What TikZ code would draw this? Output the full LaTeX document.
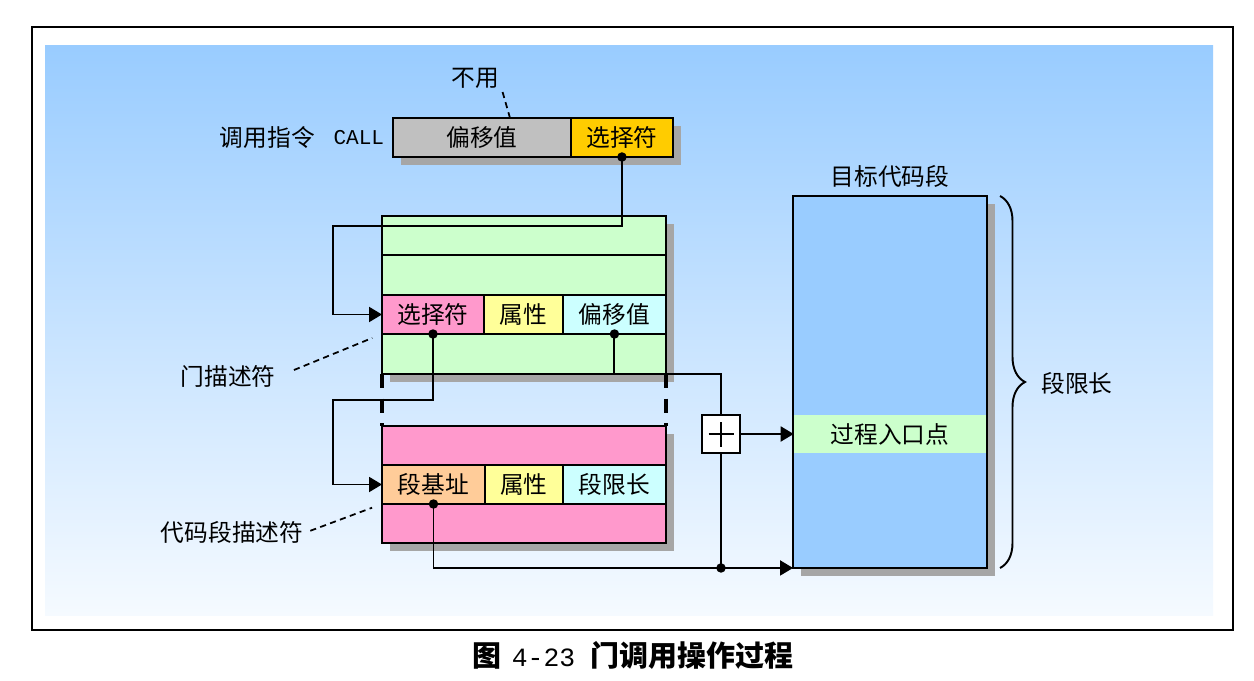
\documentclass[tikz,border=0pt]{standalone}
\usepackage{fontspec}
\setmainfont{Noto Sans CJK SC}
\setmonofont{Liberation Mono}
\usepackage{tikz}
\usetikzlibrary{arrows.meta, positioning, shadows, decorations.pathreplacing}

\definecolor{skyTop}{RGB}{153,204,255}
\definecolor{skyBot}{RGB}{245,250,255}
\definecolor{offGray}{RGB}{192,192,192}
\definecolor{selGold}{RGB}{255,204,0}
\definecolor{gateGreen}{RGB}{204,255,204}
\definecolor{selPink}{RGB}{255,153,204}
\definecolor{attrYellow}{RGB}{255,255,153}
\definecolor{offCyan}{RGB}{204,255,255}
\definecolor{baseOrange}{RGB}{255,204,153}
\definecolor{segBlue}{RGB}{153,204,255}

\begin{document}
\begin{tikzpicture}[
    x=0.02cm, y=-0.02cm,
    lbl/.style     ={font=\fontsize{13.5}{16}\selectfont, inner sep=2pt},
    cell/.style    ={rectangle, draw, line width=1.3pt, minimum height=0.78cm, inner sep=0pt, outer sep=0pt, font=\fontsize{13.5}{16}\selectfont},
    desc/.style    ={rectangle, draw, line width=1.3pt, minimum width=5.68cm, anchor=north west, inner sep=0pt, outer sep=0pt},
    shadowed/.style={drop shadow={shadow xshift=0.16cm, shadow yshift=-0.16cm, opacity=1, fill=black!35}},
    adderbox/.style={rectangle, draw, line width=1.3pt, fill=white, minimum size=0.76cm, inner sep=0pt, outer sep=0pt,
      path picture={\draw[line width=1pt]
        ([xshift=-2.5mm]path picture bounding box.center) -- ([xshift=2.5mm]path picture bounding box.center)
        ([yshift=-2.5mm]path picture bounding box.center) -- ([yshift=2.5mm]path picture bounding box.center);}},
    dot/.style     ={circle, fill, inner sep=0pt, minimum size=0.19cm},
    link/.style    ={line width=1.1pt},
    leader/.style  ={line width=1pt, dash pattern=on 3.5pt off 2.5pt},
    gap/.style     ={line width=2.2pt, dash pattern=on 8pt off 6pt},
    >={Triangle[length=2.6mm, width=3mm]}
  ]

  % 背景与边框
  \useasboundingbox (0,0) rectangle (1254,680);
  \fill[white] (0,0) rectangle (1254,680);
  \shade[top color=skyTop, bottom color=skyBot] (45,45) rectangle (1213,615);
  \draw[line width=1.3pt] (32,27) rectangle (1233,630);

  % 调用指令
  \node[cell, fill=offGray, minimum width=3.56cm, anchor=north west, shadowed] (cOff) at (393,118) {偏移值};
  \node[cell, fill=selGold, minimum width=2.04cm, right=0pt of cOff, shadowed] (cSel) {选择符};
  \node[lbl, left=0.1cm of cOff] (callKw) {\ttfamily\fontsize{12}{14}\selectfont CALL};
  \node[lbl, left=0.22cm of callKw] (callIns) {调用指令};
  \node[lbl] (unused) at (475,78) {不用};
  \coordinate (unusedTip) at (510,118);
  \draw[leader] (unused.south east) -- (unusedTip);

  % 门描述符
  \node[desc, fill=gateGreen, minimum height=3.16cm, shadowed] (gate) at (382,216) {};
  \draw[line width=1.3pt] (382,255) -- (666,255);
  \node[cell, fill=selPink, minimum width=2.04cm, anchor=north west] (gSel) at (382,295) {选择符};
  \node[cell, fill=attrYellow, minimum width=1.58cm, right=0pt of gSel] (gAttr) {属性};
  \node[cell, fill=offCyan, minimum width=2.06cm, right=0pt of gAttr] (gOff) {偏移值};

  % 代码段描述符
  \node[desc, fill=selPink, minimum height=2.34cm, shadowed] (code) at (382,426) {};
  \node[cell, fill=baseOrange, minimum width=2.06cm, anchor=north west] (dBase) at (382,465) {段基址};
  \node[cell, fill=attrYellow, minimum width=1.56cm, right=0pt of dBase] (dAttr) {属性};
  \node[cell, fill=offCyan, minimum width=2.06cm, right=0pt of dAttr] (dLim) {段限长};

  \draw[gap] (gate.south west) -- (code.north west);
  \draw[gap] (gate.south east) -- (code.north east);

  \node[lbl] (gLbl) at (228,376) {门描述符};
  \draw[leader, shorten <=9pt, shorten >=6pt] (gLbl.east) -- (gSel.south west);
  \node[lbl] (dLbl) at (232,532) {代码段描述符};
  \draw[leader, shorten <=2pt, shorten >=6pt] (dLbl.east) -- (dBase.south west);

  % 目标代码段
  \node[rectangle, draw, line width=1.3pt, outer sep=0pt, fill=segBlue, minimum width=3.88cm, minimum height=7.44cm, shadowed] (seg) at (890,382) {};
  \node[lbl, fill=gateGreen, minimum width=3.84cm, minimum height=0.76cm] (entry) at (890,434) {过程入口点};
  \node[lbl, above=0.1cm of seg] (segTitle) {目标代码段};
  \node[adderbox] (adder) at (721,434) {};

  \coordinate (braceTop) at (1000,196);
  \coordinate (braceBot) at (1000,568);
  \draw[line width=1.1pt, decorate, decoration={brace, amplitude=0.5cm}] (braceTop) -- (braceBot);
  \node[lbl] (limLbl) at (1077,383) {段限长};

  % 连线
  \coordinate (bendA) at (333,226);
  \coordinate (bendB) at (333,400);
  \coordinate (bendC) at (721,374);
  \draw[link, ->] (cSel.south) |- (bendA) |- (gSel.west);
  \draw[link, ->] (gSel.south) |- (bendB) |- (dBase.west);
  \draw[link] (gOff.south) |- (bendC) -- (adder.north);
  \draw[link, ->] (adder.east) -- (entry.west);
  \draw[link, ->] (dBase.south) |- (seg.south west);
  \draw[link] (adder.south) -- (adder.south |- seg.south west) node[dot] (join) {};

  \node[dot] (dotA) at (cSel.south) {};
  \node[dot] (dotB) at (gSel.south) {};
  \node[dot] (dotC) at (gOff.south) {};
  \node[dot] (dotD) at (dBase.south) {};

  % 图题
  \node[font=\fontsize{16.5}{20}\selectfont\bfseries] (caption) at (633,655)
    {图\hspace{0.2cm}{\mdseries\ttfamily\fontsize{15}{18}\selectfont 4-23}\hspace{0.3cm}门调用操作过程};

\end{tikzpicture}
\end{document}
